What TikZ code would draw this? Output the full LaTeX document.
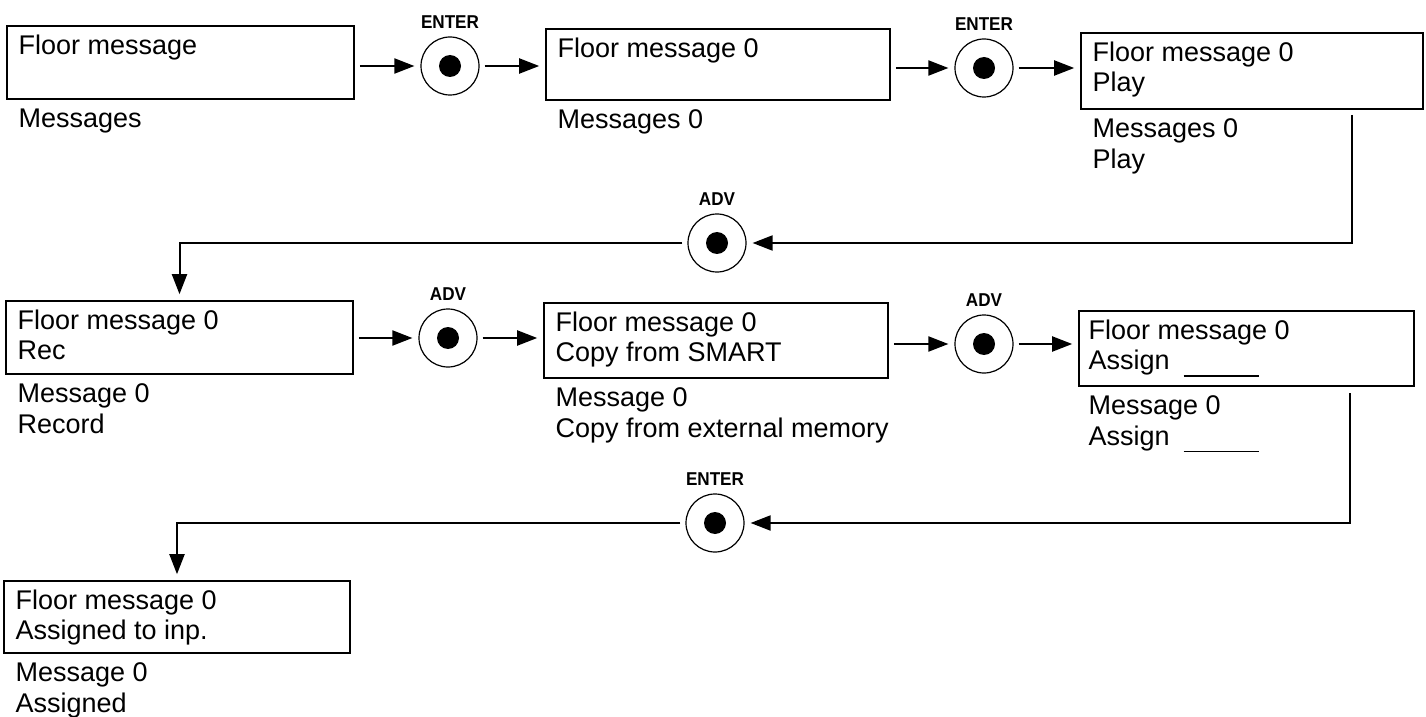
\documentclass[tikz,border=0pt]{standalone}
\usepackage{fontspec}
\setmainfont{Liberation Sans}
\usetikzlibrary{calc,arrows.meta}
\begin{document}
\begin{tikzpicture}[x=0.5pt,y=-0.5pt,
  box/.style={draw, line width=0.8pt, inner sep=0, rectangle},
  btn/.style={circle, draw, line width=0.6pt, minimum size=29pt, inner sep=0,
    path picture={\fill (path picture bounding box.center) circle (5.5pt);}},
  txt/.style={inner sep=0, anchor=base west, font=\fontsize{13.5pt}{15.25pt}\selectfont},
  lbl/.style={inner sep=0, anchor=base, font=\bfseries\fontsize{9.3pt}{11pt}\selectfont},
  arr/.style={line width=1pt, -{Triangle[length=10pt,width=7.5pt]}, shorten <=2.5pt, shorten >=3pt}
]
\useasboundingbox (0,0) rectangle (1426,717);

% boxes
\node[box, minimum width=173.5pt, minimum height=36.5pt] (b1) at (180.5,62.5) {};
\node[box, minimum width=172pt, minimum height=35.5pt] (b2) at (718,64.5) {};
\node[box, minimum width=171pt, minimum height=38pt] (b3) at (1252,71) {};
\node[box, minimum width=173.5pt, minimum height=36.5pt] (b4) at (179.5,337.5) {};
\node[box, minimum width=172pt, minimum height=37.5pt] (b5) at (716,340.5) {};
\node[box, minimum width=167.5pt, minimum height=37.5pt] (b6) at (1246.5,348.5) {};
\node[box, minimum width=173pt, minimum height=36pt] (b7) at (177,617) {};

% texts inside and below boxes
\node[txt] (b1t1) at ($(b1.north west)+(12,29)$) {Floor message};
\node[txt] (b1s1) at ($(b1.south west)+(12,28)$) {Messages};

\node[txt] (b2t1) at ($(b2.north west)+(12,29)$) {Floor message 0};
\node[txt] (b2s1) at ($(b2.south west)+(12,28)$) {Messages 0};

\node[txt] (b3t1) at ($(b3.north west)+(12,29)$) {Floor message 0};
\node[txt] (b3t2) at ($(b3.north west)+(12,59.5)$) {Play};
\node[txt] (b3s1) at ($(b3.south west)+(12,28)$) {Messages 0};
\node[txt] (b3s2) at ($(b3.south west)+(12,58.5)$) {Play};

\node[txt] (b4t1) at ($(b4.north west)+(12,29)$) {Floor message 0};
\node[txt] (b4t2) at ($(b4.north west)+(12,59.5)$) {Rec};
\node[txt] (b4s1) at ($(b4.south west)+(12,28)$) {Message 0};
\node[txt] (b4s2) at ($(b4.south west)+(12,58.5)$) {Record};

\node[txt] (b5t1) at ($(b5.north west)+(12,29)$) {Floor message 0};
\node[txt] (b5t2) at ($(b5.north west)+(12,59.5)$) {Copy from SMART};
\node[txt] (b5s1) at ($(b5.south west)+(12,28)$) {Message 0};
\node[txt] (b5s2) at ($(b5.south west)+(12,58.5)$) {Copy from external memory};

\node[txt] (b6t1) at ($(b6.north west)+(10,29)$) {Floor message 0};
\node[txt] (b6t2) at ($(b6.north west)+(10,59.5)$) {Assign\hspace{7pt}\rule[-3.5pt]{37.5pt}{0.7pt}};
\node[txt] (b6s1) at ($(b6.south west)+(10,28)$) {Message 0};
\node[txt] (b6s2) at ($(b6.south west)+(10,58.5)$) {Assign\hspace{7pt}\rule[-3.5pt]{37.5pt}{0.7pt}};

\node[txt] (b7t1) at ($(b7.north west)+(12,29)$) {Floor message 0};
\node[txt] (b7t2) at ($(b7.north west)+(12,59.5)$) {Assigned to inp.};
\node[txt] (b7s1) at ($(b7.south west)+(12,28)$) {Message 0};
\node[txt] (b7s2) at ($(b7.south west)+(12,58.5)$) {Assigned};

% buttons
\node[btn] (c1) at (450,66) {};
\node[btn] (c2) at (984,68) {};
\node[btn] (c3) at (717,243) {};
\node[btn] (c4) at (448,338) {};
\node[btn] (c5) at (984,344) {};
\node[btn] (c6) at (715,523) {};

\node[lbl] (l1) at ($(c1)+(0,-37.5)$) {\scalebox{0.92}[1]{ENTER}};
\node[lbl] (l2) at ($(c2)+(0,-37.5)$) {\scalebox{0.92}[1]{ENTER}};
\node[lbl] (l3) at ($(c3)+(0,-37.5)$) {\scalebox{0.92}[1]{ADV}};
\node[lbl] (l4) at ($(c4)+(0,-37.5)$) {\scalebox{0.92}[1]{ADV}};
\node[lbl] (l5) at ($(c5)+(0,-37.5)$) {\scalebox{0.92}[1]{ADV}};
\node[lbl] (l6) at ($(c6)+(0,-37.5)$) {\scalebox{0.92}[1]{ENTER}};

% connectors
\draw[arr] (b1.east |- c1) -- (c1.west);
\draw[arr] (c1.east) -- (c1 -| b2.west);
\draw[arr] (b2.east |- c2) -- (c2.west);
\draw[arr] (c2.east) -- (c2 -| b3.west);

\coordinate (r1) at (1352,115);
\draw[arr, shorten <=0pt] (r1) |- (c3.east);
\draw[arr] (c3.west) -| (b4.north);

\draw[arr] (b4.east |- c4) -- (c4.west);
\draw[arr] (c4.east) -- (c4 -| b5.west);
\draw[arr] (b5.east |- c5) -- (c5.west);
\draw[arr] (c5.east) -- (c5 -| b6.west);

\coordinate (r2) at (1350,393);
\draw[arr, shorten <=0pt] (r2) |- (c6.east);
\draw[arr] (c6.west) -| (b7.north);
\end{tikzpicture}
\end{document}
